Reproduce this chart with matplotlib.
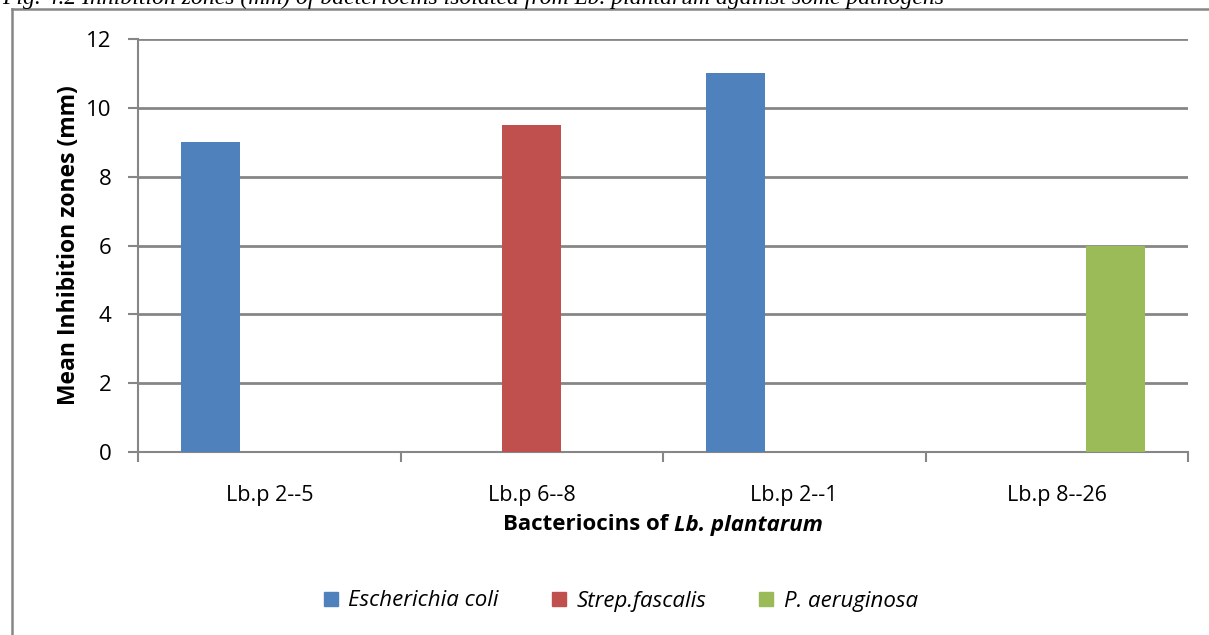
import matplotlib
matplotlib.use("Agg")
import matplotlib.pyplot as plt
from matplotlib.lines import Line2D
import numpy as np

# data
strains = ["Lb.p 2--5", "Lb.p 6--8", "Lb.p 2--1", "Lb.p 8--26"]
pathogens = ["Escherichia coli", "Strep.fascalis", "P. aeruginosa"]
e_coli = [9, 0, 11, 0]
strep = [0, 9.5, 0, 0]
p_aer = [0, 0, 0, 6]
colors = ["#4F81BD", "#C0504D", "#9BBB59"]

plt.rcParams['font.family'] = ['Open Sans', 'DejaVu Sans']

W, H = 1209, 635
fig = plt.figure(figsize=(W / 100, H / 100), dpi=100)
ax = fig.add_axes([138 / W, 1 - 452 / H, (1188 - 138) / W, (452 - 39) / H])

x = np.arange(len(strains))
w = 0.225
for k, (vals, c, name) in enumerate(zip([e_coli, strep, p_aer], colors, pathogens)):
    ax.bar(x + (k - 1) * w, vals, width=w, color=c, label=name, zorder=3)

ax.set_xlim(-0.5, len(strains) - 0.5)
ax.set_ylim(0, 12)
ax.set_yticks(range(0, 13, 2))
ax.yaxis.grid(True, color="#868686", linewidth=2.0, zorder=0)
ax.set_axisbelow(True)

grey = "#868686"
for s in ["top", "right"]:
    ax.spines[s].set_visible(False)
for s in ["left", "bottom"]:
    ax.spines[s].set_color(grey)
    ax.spines[s].set_linewidth(1.5)

# category ticks sit at group boundaries
ax.set_xticks(np.arange(len(strains) + 1) - 0.5)
ax.set_xticklabels([])
ax.set_xticks(x, minor=True)
ax.set_xticklabels(strains, minor=True, fontsize=15.5)
ax.tick_params(axis="x", which="major", length=7, width=1.5, color=grey, direction="out")
ax.tick_params(axis="x", which="minor", length=0, pad=24)
ax.tick_params(axis="y", length=7, width=1.5, color=grey, labelsize=16, pad=12)

ax.set_ylabel("Mean Inhibition zones (mm)", fontsize=16.5, fontweight="bold", labelpad=4)

# x label: bold text + bold italic species
fig.canvas.draw()
r = fig.canvas.get_renderer()
ylab = 1 - 525 / H
t1 = fig.text(0, ylab, "Bacteriocins of ", fontsize=16, fontweight="bold",
              ha="left", va="center")
t2 = fig.text(0, ylab, "Lb. plantarum", fontsize=16, fontweight="bold",
              style="italic", ha="left", va="center")
w1 = t1.get_window_extent(r).width
w2 = t2.get_window_extent(r).width
x0 = (663 - (w1 + w2) / 2) / W
t1.set_x(x0)
t2.set_x(x0 + w1 / W)

handles = [Line2D([], [], marker="s", linestyle="none", markersize=10,
                  markerfacecolor=c, markeredgecolor=c) for c in colors]
fig.legend(handles, pathogens, loc="center", bbox_to_anchor=(620 / W, 1 - 601 / H),
           ncol=3, frameon=False, prop={"style": "italic", "size": 16},
           handletextpad=0.4, columnspacing=2.3, handlelength=0.8)

# outer chart frame
fig.add_artist(Line2D([12 / W, 12 / W], [0, 1 - 9 / H], color=grey,
                      linewidth=1.8, transform=fig.transFigure))
fig.add_artist(Line2D([12 / W, 1], [1 - 9 / H, 1 - 9 / H], color=grey,
                      linewidth=1.8, transform=fig.transFigure))

# caption cut off at top of the crop (as in the source image)
fig.text(2 / W, 1 - 4 / H,
         "Fig. 4.2 Inhibition zones (mm) of bacteriocins isolated from Lb. plantarum against some pathogens",
         family="Liberation Serif", style="italic", fontsize=17, ha="left", va="baseline")

fig.savefig("out.png", dpi=100)
